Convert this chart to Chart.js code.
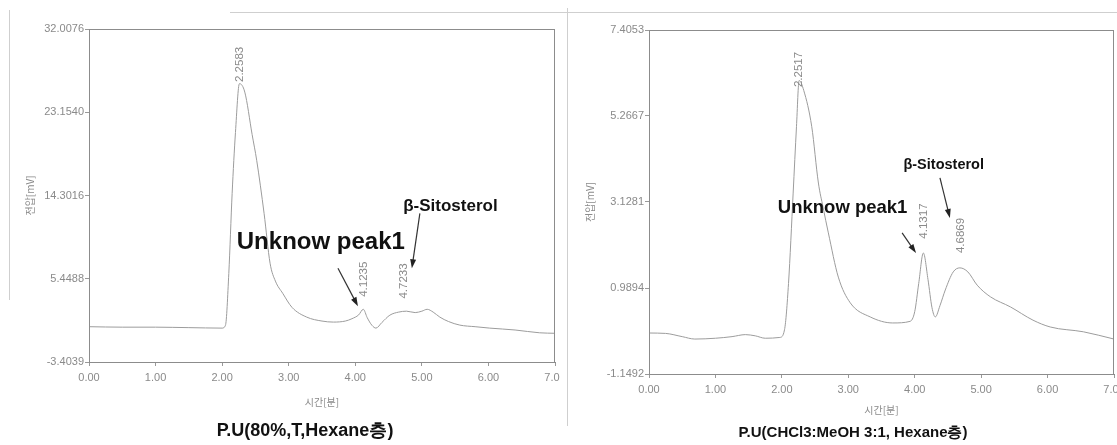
<!DOCTYPE html>
<html>
<head>
<meta charset="utf-8">
<script src="https://cdn.jsdelivr.net/npm/chart.js@4.4.1/dist/chart.umd.min.js"></script>
<style>
  body { margin: 0; background: #fff; }
  #wrap { position: relative; width: 1117px; height: 445px; overflow: hidden; background: #fff; }
  .panel { position: absolute; top: 0; }
  .scan { position: absolute; background: #cfcfcf; }
</style>
</head>
<body>
<div id="wrap">
  <canvas id="leftChart" class="panel" width="560" height="445" style="left:0"></canvas>
  <canvas id="rightChart" class="panel" width="557" height="445" style="left:560px"></canvas>
  <div class="scan" style="left:9px;top:10px;width:1px;height:290px"></div>
  <div class="scan" style="left:230px;top:12px;width:887px;height:1px"></div>
  <div class="scan" style="left:567px;top:8px;width:1px;height:418px"></div>
</div>
<script>
// left run: P.U (80%, T, Hexane layer)
const leftTimes = [0, 0.5, 1.0, 1.5, 2.0, 2.05, 2.1, 2.15, 2.2, 2.26, 2.34, 2.45, 2.52, 2.63, 2.72, 2.8, 2.91, 3.05, 3.27, 3.5, 3.67, 3.85, 3.95, 4.05, 4.12, 4.18, 4.25, 4.31, 4.4, 4.52, 4.65, 4.77, 4.9, 5.0, 5.08, 5.17, 5.27, 5.4, 5.57, 5.8, 6.02, 6.4, 6.77, 7.0];
const leftSignal = [0.35, 0.3, 0.3, 0.25, 0.2, 0.5, 6.0, 14.5, 21.0, 26.2, 25.3, 20.8, 18.0, 12.4, 7.1, 5.2, 3.9, 2.4, 1.37, 0.95, 0.84, 0.95, 1.2, 1.6, 2.2, 1.3, 0.5, 0.2, 0.8, 1.58, 1.9, 2.0, 1.85, 2.0, 2.2, 1.9, 1.37, 0.9, 0.52, 0.35, 0.2, 0.0, -0.3, -0.35];
const leftYTicks = [-3.4039, 5.4488, 14.3016, 23.1540, 32.0076];
const leftPeakTimes = [2.2583, 4.1235, 4.7233];
const leftPeakLabels = ["2.2583", "4.1235", "4.7233"];

// right run: P.U (CHCl3:MeOH 3:1, Hexane layer)
const rightTimes = [0, 0.25, 0.5, 0.69, 1.0, 1.25, 1.45, 1.6, 1.75, 1.97, 2.04, 2.1, 2.17, 2.22, 2.26, 2.33, 2.45, 2.55, 2.62, 2.7, 2.85, 3.03, 3.33, 3.67, 3.93, 4.0, 4.06, 4.13, 4.2, 4.26, 4.31, 4.38, 4.46, 4.58, 4.68, 4.8, 4.94, 5.14, 5.44, 5.78, 6.04, 6.54, 7.0];
const rightSignal = [-0.13, -0.14, -0.22, -0.28, -0.26, -0.22, -0.17, -0.2, -0.26, -0.24, -0.05, 1.1, 3.35, 5.0, 6.15, 5.9, 5.0, 3.6, 3.0, 2.36, 1.26, 0.62, 0.27, 0.12, 0.16, 0.4, 1.1, 1.86, 1.2, 0.5, 0.27, 0.55, 0.94, 1.39, 1.49, 1.39, 1.06, 0.77, 0.52, 0.19, 0.02, -0.1, -0.28];
const rightYTicks = [-1.1492, 0.9894, 3.1281, 5.2667, 7.4053];
const rightPeakTimes = [2.2517, 4.1317, 4.6869];
const rightPeakLabels = ["2.2517", "4.1317", "4.6869"];

var valueAt = function(times, signal, t) {
  for (let i = 1; i < times.length; i++) {
    if (t <= times[i]) {
      var f = (t - times[i - 1]) / (times[i] - times[i - 1]);
      return signal[i - 1] + f * (signal[i] - signal[i - 1]);
    }
  }
  return signal[signal.length - 1];
};

var drawArrow = function(ctx, x1, y1, x2, y2) {
  var a = Math.atan2(y2 - y1, x2 - x1);
  ctx.beginPath();
  ctx.moveTo(x1, y1);
  ctx.lineTo(x2 - 6 * Math.cos(a), y2 - 6 * Math.sin(a));
  ctx.stroke();
  ctx.beginPath();
  ctx.moveTo(x2, y2);
  ctx.lineTo(x2 - 9 * Math.cos(a) + 3 * Math.sin(a), y2 - 9 * Math.sin(a) - 3 * Math.cos(a));
  ctx.lineTo(x2 - 9 * Math.cos(a) - 3 * Math.sin(a), y2 - 9 * Math.sin(a) + 3 * Math.cos(a));
  ctx.closePath();
  ctx.fill();
};

// box round the plot, peak retention times, notes with arrows, caption
const chromPlugin = {
  id: "chrom",
  afterDatasetsDraw(chart, args, opts) {
    const ctx = chart.ctx;
    const a = chart.chartArea;
    const xs = chart.scales.x;
    const ys = chart.scales.y;
    ctx.save();
    ctx.strokeStyle = "#8c8c8c";
    ctx.lineWidth = 1;
    ctx.strokeRect(a.left + 0.5, a.top + 0.5, a.right - a.left - 1, a.bottom - a.top);

    ctx.fillStyle = "#8a8a8a";
    ctx.font = "11.5px 'Liberation Sans'";
    ctx.textAlign = "left";
    ctx.textBaseline = "middle";
    opts.peakTimes.forEach(function(t, i) {
      var px = xs.getPixelForValue(t);
      var py = ys.getPixelForValue(valueAt(opts.times, opts.signal, t)) - opts.gaps[i];
      ctx.save();
      ctx.translate(px, py);
      ctx.rotate(-Math.PI / 2);
      ctx.fillText(opts.peakLabels[i], 0, 0);
      ctx.restore();
    });

    opts.notes.forEach(function(n) {
      ctx.fillStyle = "#111";
      ctx.font = n.font;
      ctx.textBaseline = "middle";
      ctx.fillText(n.text, xs.getPixelForValue(n.x), ys.getPixelForValue(n.y));
    });
    ctx.strokeStyle = "#333";
    ctx.fillStyle = "#222";
    ctx.lineWidth = 1.2;
    opts.arrows.forEach(function(r) {
      drawArrow(ctx, xs.getPixelForValue(r[0]), ys.getPixelForValue(r[1]),
        xs.getPixelForValue(r[2]), ys.getPixelForValue(r[3]));
    });

    // caption under the panel
    ctx.fillStyle = "#111";
    ctx.font = "bold " + opts.capSize + "px 'Liberation Sans'";
    ctx.textAlign = "center";
    ctx.textBaseline = "middle";
    ctx.fillText(opts.caption, opts.capX, opts.capY);
    ctx.restore();
  },
};

var makeChart = function(id, times, signal, yTicks, peakTimes, peakLabels, gaps, notes, arrows, lay) {
  return new Chart(document.getElementById(id), {
    type: "line",
    data: {
      datasets: [
        {
          data: times.map((t, i) => ({ x: t, y: signal[i] })),
          borderColor: "#9c9c9c",
          borderWidth: 1,
          pointRadius: 0,
          cubicInterpolationMode: "monotone",
          fill: false,
        },
      ],
    },
    options: {
      responsive: false,
      animation: false,
      layout: { padding: { left: lay.left, top: lay.top, right: lay.right, bottom: lay.bottom } },
      scales: {
        x: {
          type: "linear",
          min: 0,
          max: 7,
          ticks: {
            stepSize: 1,
            padding: 5,
            color: "#8a8a8a",
            font: { family: "Liberation Sans", size: 11 },
            callback: (v) => v.toFixed(2),
          },
          grid: { drawOnChartArea: false, tickLength: 4, color: "#999" },
          border: { color: "#8c8c8c" },
          title: {
            display: true,
            text: "시간[분]",
            color: "#8a8a8a",
            font: { family: "Noto Sans CJK KR", size: 10 },
            padding: { top: 0, bottom: lay.xTitlePad },
          },
          afterFit: (s) => {
            s.height = lay.xHeight;
            s.paddingLeft = 0;
            s.paddingRight = 0;
          },
        },
        y: {
          min: yTicks[0],
          max: yTicks[yTicks.length - 1],
          afterBuildTicks: (s) => {
            s.ticks = yTicks.map((v) => ({ value: v }));
          },
          ticks: {
            padding: 1,
            color: "#8a8a8a",
            font: { family: "Liberation Sans", size: 11 },
            callback: (v) => Number(v).toFixed(4),
          },
          grid: { drawOnChartArea: false, tickLength: 4, color: "#999" },
          border: { color: "#8c8c8c" },
          title: {
            display: true,
            text: "전압[mV]",
            color: "#8a8a8a",
            font: { family: "Noto Sans CJK KR", size: 10 },
            padding: { top: 5, bottom: 0 },
          },
          afterFit: (s) => {
            s.width = 70;
          },
        },
      },
      plugins: {
        legend: { display: false },
        tooltip: { enabled: false },
        chrom: {
          times: times,
          signal: signal,
          peakTimes: peakTimes,
          peakLabels: peakLabels,
          gaps: gaps,
          notes: notes,
          arrows: arrows,
          caption: lay.caption,
          capSize: lay.capSize,
          capX: lay.capX,
          capY: lay.capY,
        },
      },
    },
    plugins: [chromPlugin],
  });
};

var leftChart = makeChart(
  "leftChart", leftTimes, leftSignal, leftYTicks, leftPeakTimes, leftPeakLabels, [3, 13, 13],
  [
    { text: "Unknow peak1", x: 2.22, y: 9.3, font: "bold 24px 'Liberation Sans'" },
    { text: "β-Sitosterol", x: 4.72, y: 13.2, font: "bold 17px 'Liberation Sans'" },
  ],
  [[3.74, 6.56, 4.04, 2.53], [4.97, 12.4, 4.85, 6.56]],
  { left: 19, top: 29, right: 5, bottom: 30.4, xHeight: 52.6, xTitlePad: 6.6,
    caption: "P.U(80%,T,Hexane층)", capSize: 18, capX: 305, capY: 431 }
);

var rightChart = makeChart(
  "rightChart", rightTimes, rightSignal, rightYTicks, rightPeakTimes, rightPeakLabels, [3, 15, 15],
  [
    { text: "Unknow peak1", x: 1.94, y: 2.98, font: "bold 18.5px 'Liberation Sans'" },
    { text: "β-Sitosterol", x: 3.83, y: 4.05, font: "bold 14.5px 'Liberation Sans'" },
  ],
  [[3.81, 2.36, 4.02, 1.86], [4.38, 3.73, 4.53, 2.73]],
  { left: 19, top: 30, right: 3, bottom: 27.4, xHeight: 43.6, xTitlePad: 1.6,
    caption: "P.U(CHCl3:MeOH 3:1, Hexane층)", capSize: 15, capX: 293, capY: 433 }
);
</script>
</body>
</html>
